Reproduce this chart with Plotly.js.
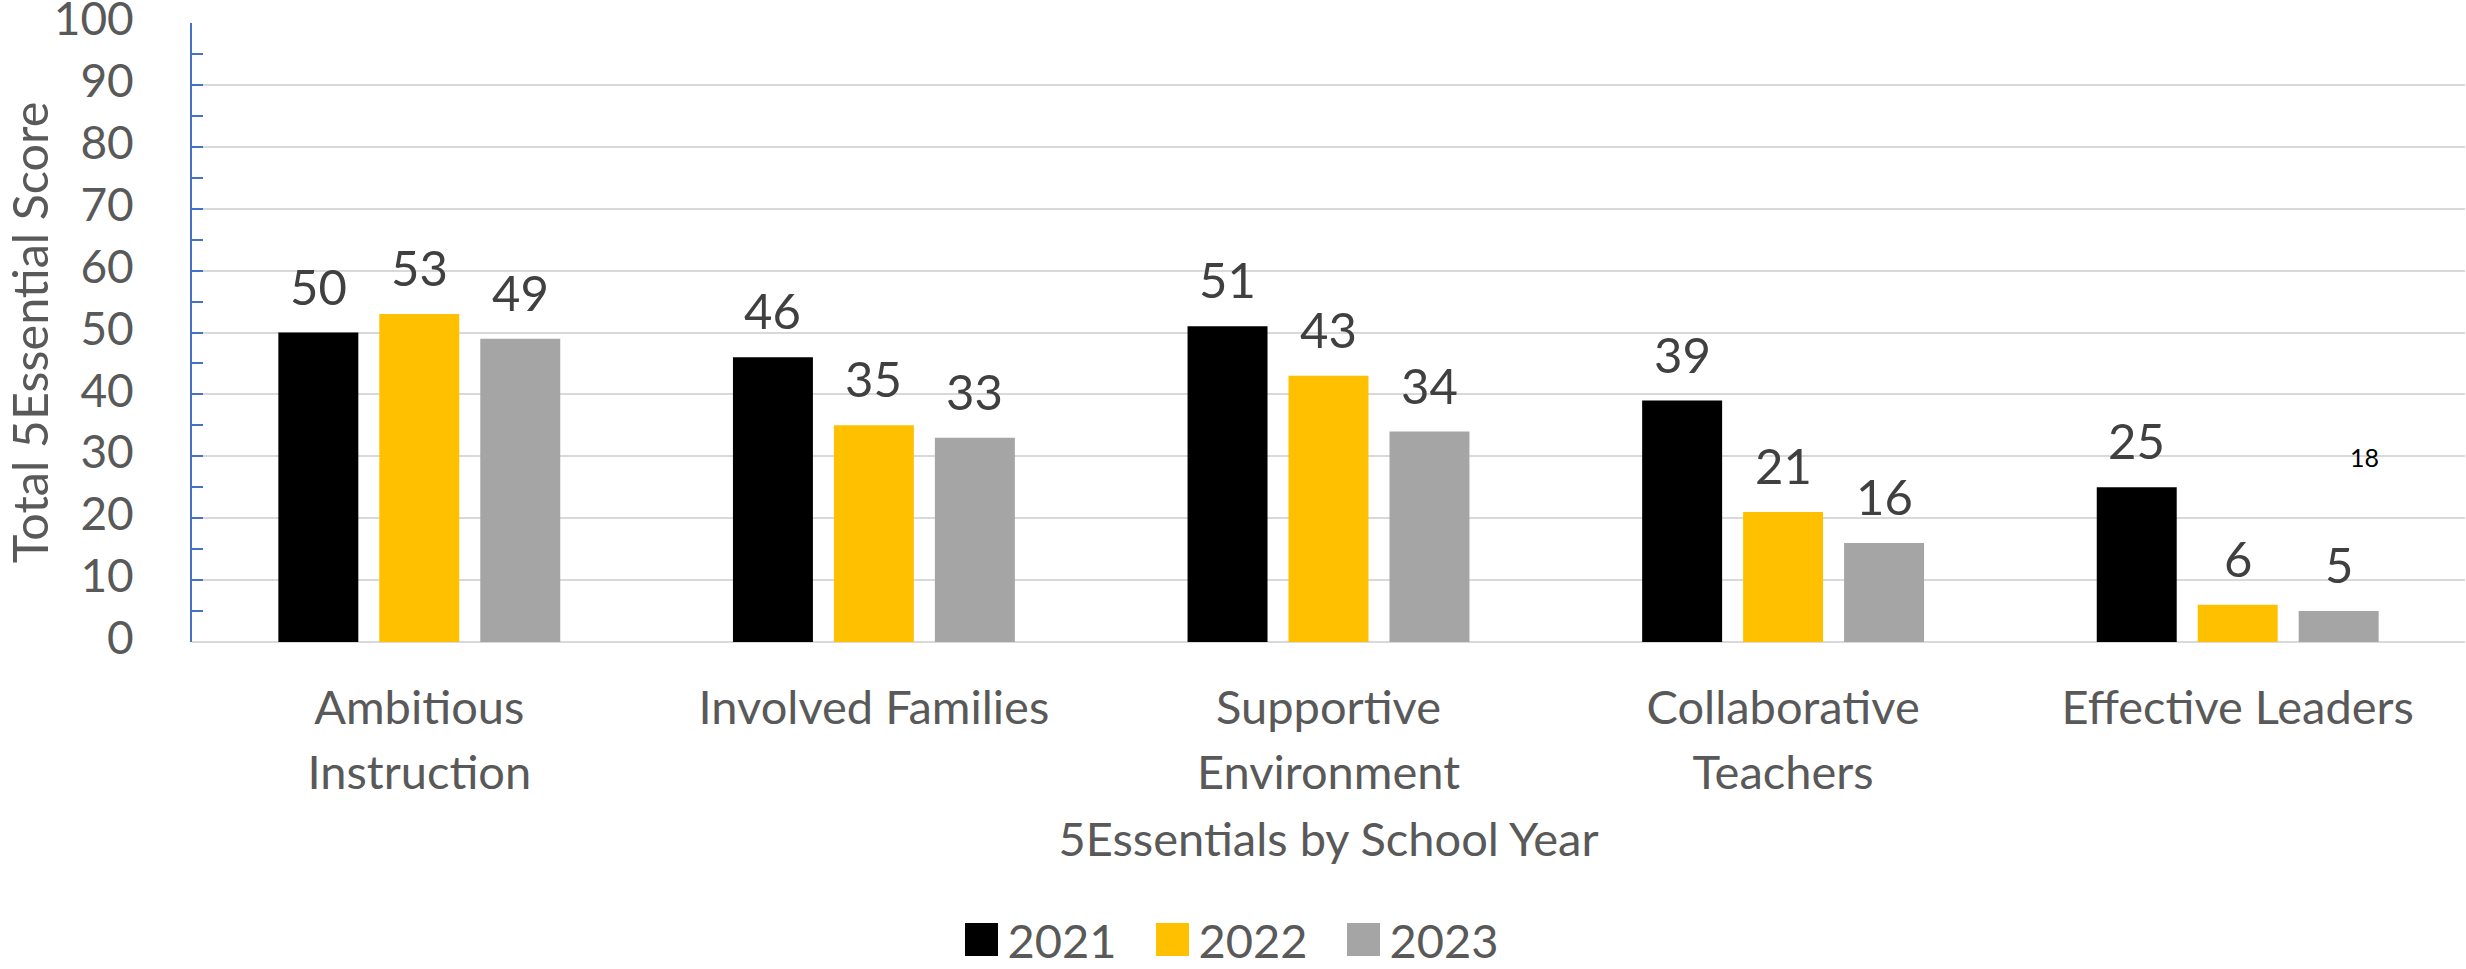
<!DOCTYPE html>
<html>
<head>
<meta charset="utf-8">
<script src="https://cdn.plot.ly/plotly-3.0.1.min.js"></script>
<style>
  html, body { margin: 0; padding: 0; background: #ffffff; }
  #chart { width: 2466px; height: 969px; }
</style>
</head>
<body>
<div id="chart"></div>
<script>
// ---- data ----
const categories = ['Ambitious Instruction', 'Involved Families', 'Supportive Environment', 'Collaborative Teachers', 'Effective Leaders'];
const categoryTickLabels = ['Ambitious<br>Instruction', 'Involved Families', 'Supportive<br>Environment', 'Collaborative<br>Teachers', 'Effective Leaders'];
const seriesNames = ['2021', '2022', '2023'];
const values2021 = [50, 46, 51, 39, 25];
const values2022 = [53, 35, 43, 21, 6];
const values2023 = [49, 33, 34, 16, 5];
const yTickValues = [0, 10, 20, 30, 40, 50, 60, 70, 80, 90, 100];
const strayLabelText = '18';
const strayLabelValue = 29.85;

// ---- style ----
const FONT = 'Lato, Carlito, "Open Sans", sans-serif';
const seriesColors = ['#000000', '#FFC000', '#A5A5A5'];
const allSeries = [values2021, values2022, values2023];

const W = 2466, H = 969;
const margin = { l: 192, r: 1, t: 23, b: 327, pad: 0, autoexpand: false };
const plotW = W - margin.l - margin.r;
const plotH = H - margin.t - margin.b;
const bargap = 0.3337;
const bargroupgap = 0.208;
const slot = plotW / categories.length * (1 - bargap) / seriesNames.length;

const traces = allSeries.map((vals, t) => ({
  type: 'bar',
  name: seriesNames[t],
  x: categories,
  y: vals,
  marker: { color: seriesColors[t], line: { width: 0 } },
  hoverinfo: 'skip'
}));

const annotations = [];
allSeries.forEach((vals, t) => {
  vals.forEach((v, j) => {
    annotations.push({
      x: categories[j], y: v, xref: 'x', yref: 'y',
      text: String(v), showarrow: false,
      xanchor: 'center', yanchor: 'bottom',
      xshift: (t - 1) * slot, yshift: 16,
      font: { family: FONT, size: 49, color: '#404040' }
    });
  });
});
annotations.push({
  x: 0.9556, xref: 'paper', y: strayLabelValue, yref: 'y',
  text: strayLabelText, showarrow: false,
  xanchor: 'center', yanchor: 'middle',
  font: { family: FONT, size: 25, color: '#000000' }
});

const layout = {
  width: W, height: H,
  margin: margin,
  paper_bgcolor: '#ffffff', plot_bgcolor: '#ffffff',
  font: { family: FONT, size: 47, color: '#595959' },
  barmode: 'group', bargap: bargap, bargroupgap: bargroupgap,
  showlegend: true,
  legend: {
    orientation: 'h', x: (1242 - margin.l) / plotW, xanchor: 'center',
    y: (642 - 940) / plotH, yanchor: 'middle',
    font: { family: FONT, size: 47, color: '#595959' },
    itemwidth: 42, entrywidth: 134, entrywidthmode: 'pixels',
    bgcolor: 'rgba(0,0,0,0)', itemclick: false, itemdoubleclick: false
  },
  xaxis: {
    type: 'category', automargin: false,
    tickmode: 'array', tickvals: categories, ticktext: categoryTickLabels,
    ticks: '', showline: false, showgrid: false, zeroline: false,
    tickfont: { family: FONT, size: 47, color: '#595959' },
    ticklabelstandoff: 34, ticklabeloverflow: 'allow',
    title: { text: '5Essentials by School Year', font: { family: FONT, size: 47, color: '#595959' }, standoff: 29 }
  },
  yaxis: {
    range: [0, 100], automargin: false,
    tickmode: 'array', tickvals: yTickValues,
    ticks: 'inside', ticklen: 11, tickwidth: 2, tickcolor: '#4472C4',
    showline: true, linecolor: '#4472C4', linewidth: 2,
    showgrid: true, gridcolor: '#D9D9D9', gridwidth: 2,
    zeroline: true, zerolinecolor: '#D9D9D9', zerolinewidth: 2,
    minor: { tickmode: 'linear', tick0: 0, dtick: 5, ticks: 'inside', ticklen: 11, tickwidth: 2, tickcolor: '#4472C4', showgrid: false },
    tickfont: { family: FONT, size: 46, color: '#595959' },
    ticklabelstandoff: 47, ticklabelshift: -4, ticklabeloverflow: 'allow',
    title: { text: 'Total 5Essential Score', font: { family: FONT, size: 48.5, color: '#595959' }, standoff: 20 }
  },
  annotations: annotations
};

Plotly.newPlot('chart', traces, layout, { displayModeBar: false, staticPlot: true }).then(function () {
  document.querySelectorAll('#chart .legend .legendpoints path').forEach(function (p) {
    const tr = p.getAttribute('transform') || '';
    p.setAttribute('transform', tr + ' scale(2.75)');
  });
  document.querySelectorAll('#chart .xtick text tspan.line').forEach(function (ts) {
    const dy = ts.getAttribute('dy');
    if (dy && parseFloat(dy) > 0) ts.setAttribute('dy', '1.39em');
  });
});
</script>
</body>
</html>
